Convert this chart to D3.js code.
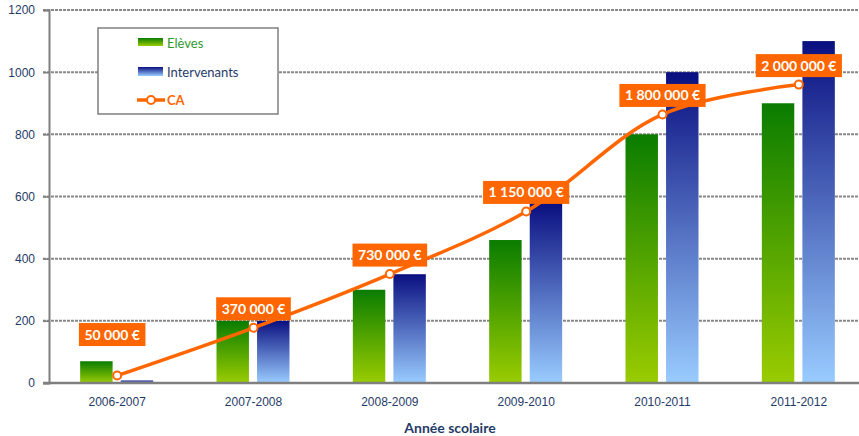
<!DOCTYPE html>
<html>
<head>
<meta charset="utf-8">
<script src="https://d3js.org/d3.v7.min.js"></script>
<style>
  body { margin: 0; background: #fff; }
  svg { display: block; font-family: Lato, 'Open Sans', sans-serif; }
</style>
</head>
<body>
<svg width="859" height="436"></svg>
<script>
// data
const years = ['2006-2007', '2007-2008', '2008-2009', '2009-2010', '2010-2011', '2011-2012'];
const eleves = [70, 200, 300, 460, 800, 900];
const intervenants = [8, 200, 350, 580, 1000, 1100];
const ca = [50000, 370000, 730000, 1150000, 1800000, 2000000];
const yTicks = [0, 200, 400, 600, 800, 1000, 1200];
const caLabels = ['50 000 €', '370 000 €', '730 000 €', '1 150 000 €', '1 800 000 €', '2 000 000 €'];

const navy = '#1f3b68';
const orange = '#ff6600';

const svg = d3.select('svg');
const defs = svg.append('defs');

function grad(id, top, bottom) {
    const g = defs.append('linearGradient').attr('id', id)
        .attr('x1', 0).attr('y1', 0).attr('x2', 0).attr('y2', 1);
    g.append('stop').attr('offset', '0%').attr('stop-color', top);
    g.append('stop').attr('offset', '100%').attr('stop-color', bottom);
}
grad('gGreen', '#0a7c00', '#9acc00');
grad('gBlue', '#0a0f80', '#99ccff');

const x = d3.scaleBand().domain(years).range([49, 867]);
const y = d3.scaleLinear().domain([0, 1200]).range([383, 10]);
const yCA = d3.scaleLinear().domain([0, 2500000]).range([383, 10]);
const x1 = d3.scaleBand().domain(['e', 'i']).range([-37, 36]).paddingInner(0.2);
const cx = d => x(d) + x.bandwidth() / 2;

// gridlines
svg.append('g')
    .selectAll('line')
    .data(yTicks.filter(t => t > 0))
    .join('line')
    .attr('x1', 43).attr('x2', 859)
    .attr('y1', d => y(d)).attr('y2', d => y(d))
    .attr('stroke', '#888')
    .attr('stroke-width', 2)
    .attr('stroke-dasharray', '3,1');

// y axis
const yAxis = svg.append('g')
    .attr('transform', 'translate(49,0)')
    .call(d3.axisLeft(y).tickValues(yTicks).tickFormat(d3.format('d')).tickSize(6).tickPadding(8));
yAxis.select('.domain').attr('stroke', '#7f7f7f').attr('stroke-width', 2);
yAxis.selectAll('.tick line').attr('stroke', '#7f7f7f').attr('stroke-width', 1.5);
yAxis.selectAll('.tick text').attr('fill', navy).style('font-size', '12px');

// bars
const groups = svg.append('g')
    .selectAll('g')
    .data(years)
    .join('g')
    .attr('transform', d => `translate(${cx(d)},0)`);

groups.append('rect')
    .attr('x', x1('e'))
    .attr('width', x1.bandwidth())
    .attr('y', (d, i) => y(eleves[i]))
    .attr('height', (d, i) => y(0) - y(eleves[i]))
    .attr('fill', 'url(#gGreen)');

groups.append('rect')
    .attr('x', x1('i'))
    .attr('width', x1.bandwidth())
    .attr('y', (d, i) => y(intervenants[i]))
    .attr('height', (d, i) => y(0) - y(intervenants[i]))
    .attr('fill', 'url(#gBlue)');

// x axis
const xAxis = svg.append('g')
    .attr('transform', `translate(0,${y(0)})`)
    .call(d3.axisBottom(x).tickSize(0).tickPadding(14));
xAxis.select('.domain').remove();
xAxis.selectAll('.tick text').attr('fill', navy).style('font-size', '12px');
svg.append('line')
    .attr('x1', 43).attr('x2', 859)
    .attr('y1', y(0)).attr('y2', y(0))
    .attr('stroke', '#7f7f7f').attr('stroke-width', 2.5);

svg.append('text')
    .attr('x', 450).attr('y', 433)
    .attr('text-anchor', 'middle')
    .attr('fill', navy)
    .style('font-size', '14px')
    .style('font-weight', 'bold')
    .text('Année scolaire');

// CA line
const line = d3.line()
    .x((d, i) => cx(years[i]))
    .y(d => yCA(d))
    .curve(d3.curveCatmullRom);

svg.append('path')
    .datum(ca)
    .attr('d', line)
    .attr('fill', 'none')
    .attr('stroke', orange)
    .attr('stroke-width', 3.5);

svg.append('g')
    .selectAll('circle')
    .data(ca)
    .join('circle')
    .attr('cx', (d, i) => cx(years[i]))
    .attr('cy', d => yCA(d))
    .attr('r', 4)
    .attr('fill', '#fff')
    .attr('stroke', orange)
    .attr('stroke-width', 2);

// CA labels
const lab = svg.append('g')
    .selectAll('g')
    .data(ca)
    .join('g')
    .attr('transform', (d, i) => {
        const dx = i === 0 ? -5 : 0;
        const dy = i === 0 ? -41 : -19;
        return `translate(${cx(years[i]) + dx},${yCA(d) + dy})`;
    });
const rects = lab.append('rect').attr('fill', orange);
const texts = lab.append('text')
    .attr('text-anchor', 'middle')
    .attr('dy', '0.36em')
    .attr('fill', '#fff')
    .style('font-size', '14px')
    .style('font-weight', 'bold')
    .text((d, i) => caLabels[i]);
texts.each(function (d, i) {
    const w = this.getComputedTextLength() + 11;
    d3.select(rects.nodes()[i])
        .attr('x', -w / 2).attr('y', -11.5)
        .attr('width', w).attr('height', 23);
});

// legend
const leg = svg.append('g');
leg.append('rect')
    .attr('x', 98).attr('y', 28).attr('width', 180).attr('height', 86)
    .attr('fill', '#fff').attr('stroke', '#7f7f7f').attr('stroke-width', 1.5);
leg.append('rect').attr('x', 138).attr('y', 38).attr('width', 25).attr('height', 8).attr('fill', 'url(#gGreen)');
leg.append('rect').attr('x', 138).attr('y', 67).attr('width', 25).attr('height', 9).attr('fill', 'url(#gBlue)');
leg.append('line').attr('x1', 137).attr('x2', 165).attr('y1', 100).attr('y2', 100)
    .attr('stroke', orange).attr('stroke-width', 3.5);
leg.append('circle').attr('cx', 151).attr('cy', 100).attr('r', 4)
    .attr('fill', '#fff').attr('stroke', orange).attr('stroke-width', 2);
leg.append('text').attr('x', 167).attr('y', 48).attr('fill', '#2e9a2e')
    .style('font-size', '13px').text('Elèves');
leg.append('text').attr('x', 167).attr('y', 76.5).attr('fill', navy)
    .style('font-size', '13px').text('Intervenants');
leg.append('text').attr('x', 167).attr('y', 104.5).attr('fill', orange)
    .style('font-size', '13px').style('font-weight', 'bold').text('CA');
</script>
</body>
</html>
